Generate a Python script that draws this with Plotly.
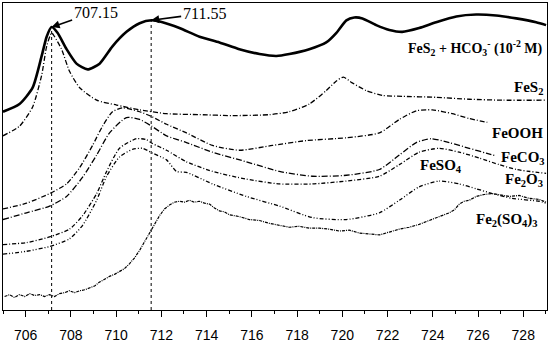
import plotly.graph_objects as go

# Energy (eV) and relative intensity (arbitrary units)
main_x = [705.0,705.73,706.31,706.71,706.93,707.15,707.41,707.81,708.25,708.74,
          709.27,709.84,710.46,711.04,711.57,712.05,712.80,713.69,714.57,715.45,
          716.34,717.09,717.66,718.54,719.29,719.74,720.18,720.53,720.89,721.50,
          722.08,722.65,723.40,724.15,725.04,725.92,726.80,727.69,728.57,729.01]
main_y = [206,214,231,264,284,294,288,271,256,250,
          256,274,289,298,301,299,293,284,278,271,
          266,264,266,271,278,288,301,304,303,296,
          291,289,293,299,305,307,306,303,299,296]

fes2_x = [705.0,705.73,706.31,706.71,706.93,707.15,707.28,707.59,707.94,708.39,
          709.14,710.02,711.04,712.23,713.69,715.14,716.78,717.66,718.54,719.29,
          719.74,720.05,720.44,721.06,721.77,722.65,724.15,725.61,727.07,729.01]
fes2_y = [181,191,211,244,274,288,284,271,248,231,
          218,213,208,204,203,202,203,206,214,228,
          238,242,236,228,223,222,221,219,218,218]

feooh_x = [705.0,706.04,707.06,707.81,708.39,708.96,709.40,709.84,710.28,711.04,
           711.57,712.23,713.11,714.26,715.45,716.91,718.41,720.18,721.64,722.52,
           723.27,723.98,724.86,725.61,726.41]
feooh_y = [105,111,121,131,148,171,191,206,210,206,
           201,193,184,171,166,171,176,179,184,198,
           207,208,204,199,195]

feco3_x = [705.0,706.04,707.06,707.81,708.52,709.14,709.71,710.46,711.04,711.57,
           712.23,713.11,714.26,715.76,717.22,718.68,720.18,721.64,722.52,723.27,
           723.93,724.73,725.61,726.36,726.80]
feco3_y = [94,101,108,118,138,161,184,200,198,191,
           181,174,164,154,144,139,140,146,161,174,
           178,174,168,163,160]

fe2o3_x = [705.0,706.04,707.06,707.94,708.52,709.14,709.58,710.15,710.90,711.34,
           711.61,712.23,713.11,714.26,715.76,717.22,718.68,720.18,721.64,722.52,
           723.40,724.29,725.17,726.05,726.94,727.69,729.01]
fe2o3_y = [68,70,76,84,98,121,144,168,178,177,
           173,166,154,144,136,131,131,134,139,151,
           164,168,164,158,151,146,142]

feso4_x = [705.0,706.04,707.06,707.94,708.52,709.14,709.58,710.15,710.73,711.17,
           711.61,712.23,712.67,713.11,714.26,715.76,717.22,718.68,720.18,721.64,
           722.52,723.40,724.29,725.17,725.92,726.63,727.51,728.71,729.01]
feso4_y = [58,61,66,74,88,114,139,159,167,168,
           163,156,144,143,131,118,108,96,94,101,
           114,128,134,131,126,121,116,113,111]

fe2so43_x = [705.07,705.29,705.51,705.73,705.96,706.18,706.40,706.62,706.84,707.06,
             707.28,707.50,707.72,707.94,708.16,708.39,708.61,708.83,709.05,709.27,
             709.49,709.71,709.93,710.15,710.37,710.59,710.81,711.04,711.26,711.48,
             711.70,711.92,712.14,712.36,712.58,712.80,713.02,713.24,713.46,713.69,
             713.91,714.13,714.35,714.57,714.79,715.01,715.45,715.89,716.34,716.78,
             717.22,717.66,718.10,718.54,718.99,719.43,719.87,720.31,720.75,721.19,
             721.64,722.08,722.52,722.96,723.40,723.84,724.29,724.73,724.95,725.17,
             725.39,725.61,725.92,726.27,726.63,726.94,727.38,727.82,728.26,728.70,
             729.01]
fe2so43_y = [14,16,13,16,14,17,15,16,14,16,
             14,17,18,20,18,20,21,23,25,29,
             32,35,37,40,43,48,54,62,71,80,
             88,98,105,109,112,113,112,114,112,113,
             111,110,106,103,102,99,97,94,93,90,
             88,86,87,85,85,84,82,83,80,79,
             78,81,84,86,89,93,97,101,104,110,
             113,114,118,120,121,120,118,119,116,115,
             112]

peaks = [707.15, 711.55]
peak_tops = [294, 301]
tick_vals = list(range(706, 729, 2))

fig = go.Figure()

def add(x, y, width, dash, shape="spline"):
    fig.add_trace(go.Scatter(x=x, y=y, mode="lines",
                             line=dict(color="black", width=width, dash=dash,
                                       shape=shape, smoothing=0.6),
                             showlegend=False, hoverinfo="skip"))

add(main_x, main_y, 2.6, "solid")
add(fes2_x, fes2_y, 1.3, "5px,2px,1px,2px")
add(feooh_x, feooh_y, 1.3, "5px,2px,1px,2px")
add(feco3_x, feco3_y, 1.3, "6px,2px,1px,2px")
add(fe2o3_x, fe2o3_y, 1.3, "4px,2px,1px,2px")
add(feso4_x, feso4_y, 1.3, "4px,2px,1px,2px,1px,2px")
add(fe2so43_x, fe2so43_y, 1.2, "3px,1px,1px,1px", shape="linear")

for px, top in zip(peaks, peak_tops):
    fig.add_shape(type="line", x0=px, x1=px, y0=0, y1=top, xref="x", yref="y",
                  line=dict(color="black", width=1, dash="dot"))

ann_font = dict(family="Liberation Serif", size=16, color="black")
fig.add_annotation(x=peaks[0], y=peak_tops[0], text="707.15", showarrow=True,
                   ax=44, ay=-15, arrowhead=2, arrowsize=1, arrowwidth=1.6,
                   arrowcolor="black", font=ann_font)
fig.add_annotation(x=peaks[1], y=peak_tops[1], text="711.55", showarrow=True,
                   ax=53, ay=-7, arrowhead=2, arrowsize=1, arrowwidth=1.6,
                   arrowcolor="black", font=ann_font)

main_font = dict(family="Liberation Serif", size=14, color="black")
lab_font = dict(family="Liberation Serif", size=15, color="black")
labels = [
    (728.97, 272, "<b>FeS<sub>2</sub> + HCO<sub>3</sub><sup>-</sup> (10<sup>-2</sup> M)</b>", "right", main_font),
    (728.95, 231, "<b>FeS<sub>2</sub></b>", "right", lab_font),
    (728.97, 184, "<b>FeOOH</b>", "right", lab_font),
    (729.05, 158, "<b>FeCO<sub>3</sub></b>", "right", lab_font),
    (724.35, 150, "<b>FeSO<sub>4</sub></b>", "center", lab_font),
    (728.97, 135, "<b>Fe<sub>2</sub>O<sub>3</sub></b>", "right", lab_font),
    (728.75, 94, "<b>Fe<sub>2</sub>(SO<sub>4</sub>)<sub>3</sub></b>", "right", lab_font),
]
for x, y, t, anc, f in labels:
    fig.add_annotation(x=x, y=y, text=t, showarrow=False, xanchor=anc,
                       yanchor="middle", font=f)

fig.update_layout(
    width=550, height=345,
    margin=dict(l=3, r=2, t=2, b=24),
    paper_bgcolor="white", plot_bgcolor="white",
    xaxis=dict(range=[705, 729.05], tickvals=tick_vals, ticks="outside",
               ticklen=6, tickwidth=1, tickcolor="black", ticklabelstandoff=6,
               minor=dict(ticks="outside", ticklen=3, dtick=1, tick0=705,
                          tickcolor="black"),
               showline=True, linecolor="black", linewidth=1, mirror=True,
               showgrid=False, zeroline=False,
               tickfont=dict(family="Liberation Sans", size=14, color="black")),
    yaxis=dict(range=[0, 319], showticklabels=False, ticks="",
               showline=True, linecolor="black", linewidth=1, mirror=True,
               showgrid=False, zeroline=False),
)

fig.write_html("out.html", config={"displayModeBar": False},
               post_script="document.body.style.margin='0';document.body.style.overflow='hidden';")
